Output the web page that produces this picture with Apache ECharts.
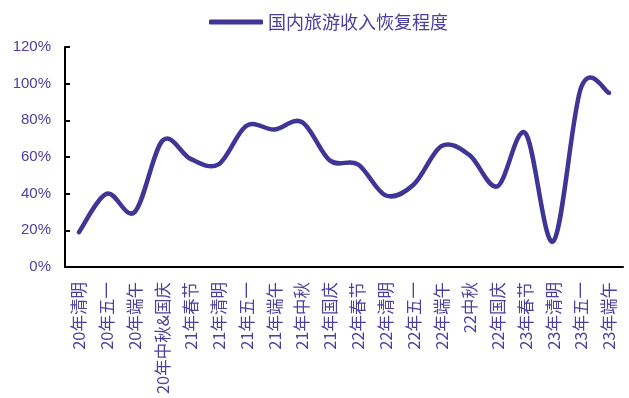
<!DOCTYPE html>
<html>
<head>
<meta charset="utf-8">
<script src="https://cdn.jsdelivr.net/npm/echarts@6/dist/echarts.min.js"></script>
<style>
  html, body { margin: 0; padding: 0; background: #fff; }
  #chart { width: 629px; height: 398px; }
</style>
</head>
<body>
<div id="chart"></div>
<script>
// 国内旅游收入恢复程度 (相对2019年同期, %)
const categories = [
  "20年清明", "20年五一", "20年端午", "20年中秋&国庆", "21年春节",
  "21年清明", "21年五一", "21年端午", "21年中秋", "21年国庆",
  "22年春节", "22年清明", "22年五一", "22年端午", "22中秋",
  "22年国庆", "23年春节", "23年清明", "23年五一", "23年端午"
]
const recovery = [19, 40, 30, 69, 59, 56, 77, 75, 79, 58, 56, 39, 45, 66, 61, 44, 73, 14, 98, 95]
const seriesName = "国内旅游收入恢复程度"

const purple = "#3f3596"
const textColor = "#4b409c"

const chart = echarts.init(document.getElementById("chart"))

// Excel-style smoothed line (Catmull-Rom -> cubic bezier), points placed through the axes via api.coord
function renderSmoothLine(params, api) {
  if (params.dataIndex !== 0) return null
  const pts = recovery.map((v, i) => api.coord([i, v]))
  const n = pts.length
  let d = `M${pts[0][0]},${pts[0][1]}`
  for (let i = 0; i < n - 1; i++) {
    const p0 = pts[Math.max(i - 1, 0)]
    const p1 = pts[i]
    const p2 = pts[i + 1]
    const p3 = pts[Math.min(i + 2, n - 1)]
    const c1x = p1[0] + (p2[0] - p0[0]) / 6
    const c1y = p1[1] + (p2[1] - p0[1]) / 6
    const c2x = p2[0] - (p3[0] - p1[0]) / 6
    const c2y = p2[1] - (p3[1] - p1[1]) / 6
    d += ` C${c1x},${c1y} ${c2x},${c2y} ${p2[0]},${p2[1]}`
  }
  return {
    type: "path",
    shape: { pathData: d },
    style: { stroke: purple, lineWidth: 4.5, fill: null, lineCap: "round", lineJoin: "round" },
  }
}

chart.setOption({
  animation: false,
  legend: {
    top: 8,
    left: 204,
    itemWidth: 54,
    itemHeight: 5,
    itemGap: 7,
    textStyle: { color: textColor, fontSize: 18, fontFamily: "Noto Sans CJK SC" },
    data: [{ name: seriesName, icon: "roundRect", itemStyle: { color: purple } }],
  },
  grid: { left: 65, right: 6, top: 47, bottom: 131, containLabel: false },
  xAxis: {
    type: "category",
    data: categories,
    boundaryGap: true,
    axisLine: { lineStyle: { color: "#000", width: 2 } },
    axisTick: { inside: true, length: 5, lineStyle: { color: "#000", width: 2 } },
    axisLabel: {
      interval: 0,
      rotate: 90,
      margin: 15,
      color: textColor,
      fontSize: 16.5,
      fontFamily: "Noto Sans CJK SC",
      align: "right",
      verticalAlign: "middle",
    },
  },
  yAxis: {
    type: "value",
    min: 0,
    max: 120,
    interval: 20,
    splitLine: { show: false },
    axisLine: { show: true, lineStyle: { color: "#000", width: 2 } },
    axisTick: { show: true, inside: true, length: 5, lineStyle: { color: "#000", width: 2 } },
    axisLabel: {
      formatter: "{value}%",
      color: textColor,
      fontSize: 15,
      fontFamily: "Liberation Sans",
      margin: 14,
    },
  },
  series: [
    {
      name: seriesName,
      type: "custom",
      renderItem: renderSmoothLine,
      data: recovery.map((v, i) => [i, v]),
      encode: { x: 0, y: 1 },
      itemStyle: { color: purple },
      clip: false,
    },
  ],
})
</script>
</body>
</html>
